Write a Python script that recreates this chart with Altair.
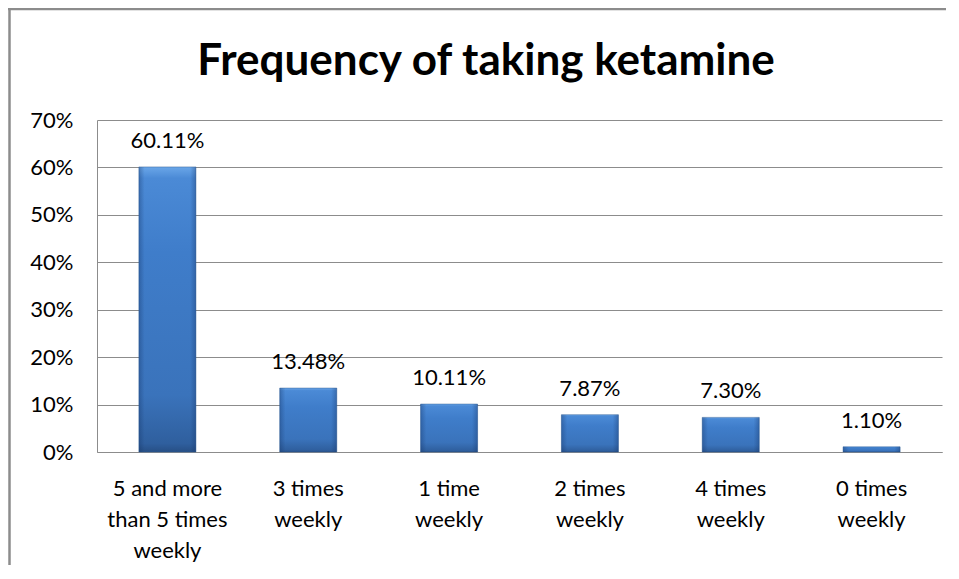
import altair as alt
import pandas as pd

categories = [
    "5 and more|than 5 times|weekly",
    "3 times|weekly",
    "1 time|weekly",
    "2 times|weekly",
    "4 times|weekly",
    "0 times|weekly",
]
values = [60.11, 13.48, 10.11, 7.87, 7.30, 1.10]
value_labels = ["60.11%", "13.48%", "10.11%", "7.87%", "7.30%", "1.10%"]
y_ticks = [0, 10, 20, 30, 40, 50, 60, 70]
title_text = "Frequency of taking ketamine"

df = pd.DataFrame({"cat": categories, "val": values, "lab": value_labels})

FONT = "Lato"
GRID = "#8c8c8c"
FS = 22

x_enc = alt.X(
    "cat:N",
    sort=categories,
    title=None,
    scale=alt.Scale(paddingInner=0.595, paddingOuter=0.2975),
    axis=alt.Axis(
        labelExpr="split(datum.label, '|')",
        labelAngle=0,
        labelFont=FONT,
        labelFontSize=FS,
        labelColor="#000000",
        labelLineHeight=31,
        labelBaseline="alphabetic",
        labelPadding=43,
        ticks=False,
        tickSize=0,
        domain=True,
        domainColor=GRID,
        domainWidth=1,
        grid=False,
    ),
)
y_enc = alt.Y(
    "val:Q",
    title=None,
    scale=alt.Scale(domain=[0, 70], nice=False),
    axis=alt.Axis(
        values=y_ticks,
        labelExpr="datum.value + '%'",
        labelFont=FONT,
        labelFontSize=FS,
        labelColor="#000000",
        labelPadding=24,
        ticks=False,
        tickSize=0,
        domain=True,
        domainColor=GRID,
        domainWidth=1,
        grid=True,
        gridColor=GRID,
        gridWidth=1,
    ),
)

bar_fill = alt.LinearGradient(
    gradient="linear",
    x1=0, y1=0, x2=0, y2=1,
    stops=[
        alt.GradientStop(color="#6aa6e8", offset=0),
        alt.GradientStop(color="#4b8ad6", offset=0.04),
        alt.GradientStop(color="#3f7dca", offset=0.3),
        alt.GradientStop(color="#3a73bb", offset=0.8),
        alt.GradientStop(color="#2f5f9e", offset=0.97),
        alt.GradientStop(color="#274f85", offset=1),
    ],
)
edge_shade = alt.LinearGradient(
    gradient="linear",
    x1=0, y1=0, x2=1, y2=0,
    stops=[
        alt.GradientStop(color="rgba(20,50,100,0.35)", offset=0),
        alt.GradientStop(color="rgba(20,50,100,0.0)", offset=0.1),
        alt.GradientStop(color="rgba(20,50,100,0.0)", offset=0.9),
        alt.GradientStop(color="rgba(20,50,100,0.35)", offset=1),
    ],
)

base = alt.Chart(df)
bars = base.mark_bar(fill=bar_fill, stroke="#2d5a94", strokeWidth=0.8, strokeOpacity=0.6).encode(x=x_enc, y=y_enc)
shade = base.mark_bar(fill=edge_shade).encode(x=alt.X("cat:N", sort=categories), y="val:Q")
labels = base.mark_text(
    font=FONT, fontSize=FS, color="#000000", baseline="alphabetic", dy=-19
).encode(x=alt.X("cat:N", sort=categories), y="val:Q", text="lab:N")

title = alt.Chart(alt.Data(values=[{"t": title_text}])).mark_text(
    font=FONT, fontSize=44, fontWeight="bold", color="#000000",
    align="center", baseline="alphabetic",
).encode(x=alt.value(389), y=alt.value(-45), text="t:N")

one = alt.Data(values=[{"b": 1}])
border_top = alt.Chart(one).mark_rule(color="#8c8c8c", strokeWidth=2.5).encode(
    x=alt.value(-89), x2=alt.value(849), y=alt.value(-111)
)
border_left = alt.Chart(one).mark_rule(color="#8c8c8c", strokeWidth=2.5).encode(
    x=alt.value(-87.5), y=alt.value(-112), y2=alt.value(445)
)

chart = alt.layer(border_top, border_left, bars, shade, labels, title).properties(
    width=845,
    height=332,
    autosize=alt.AutoSizeParams(type="none"),
    padding={"left": 89, "top": 112, "right": 4, "bottom": 113},
    background="#ffffff",
).configure_view(stroke=None)

chart.save("out.html", embed_options={"renderer": "svg", "actions": False})
